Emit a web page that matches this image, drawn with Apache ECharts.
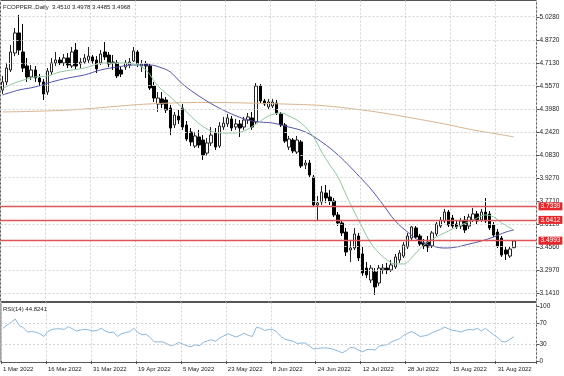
<!DOCTYPE html>
<html><head><meta charset="utf-8">
<script src="https://cdn.jsdelivr.net/npm/echarts@6/dist/echarts.min.js"></script>
<style>html,body{margin:0;padding:0;background:#fff}#c{width:564px;height:376px}</style>
</head><body><div id="c"></div>
<script>
const tickLabels = ['1 Mar 2022','16 Mar 2022','31 Mar 2022','19 Apr 2022','5 May 2022','23 May 2022','8 Jun 2022','24 Jun 2022','12 Jul 2022','28 Jul 2022','15 Aug 2022','31 Aug 2022'];
const labelStep = 11;
const emptySlots = 5;
const yTicks = [5.0280,4.8720,4.7130,4.5570,4.3980,4.2420,4.0830,3.9270,3.7710,3.6120,3.4560,3.2970,3.1410];
const rsiTicks = [0,30,70,100];
const levels = [3.7339,3.6412,3.4993];

const open = [4.529,4.584,4.666,4.782,4.919,4.789,4.693,4.618,4.666,4.611,
4.584,4.515,4.652,4.714,4.734,4.714,4.748,4.693,4.802,4.707,
4.720,4.734,4.755,4.734,4.714,4.789,4.768,4.720,4.714,4.666,
4.686,4.700,4.727,4.789,4.693,4.707,4.693,4.556,4.433,4.468,
4.461,4.406,4.290,4.351,4.406,4.290,4.242,4.146,4.208,4.187,
4.098,4.167,4.235,4.146,4.276,4.297,4.331,4.276,4.297,4.276,
4.324,4.338,4.310,4.556,4.454,4.413,4.420,4.440,4.365,4.290,
4.139,4.187,4.105,4.174,4.016,4.030,3.934,3.743,3.764,3.825,
3.798,3.770,3.675,3.620,3.558,3.435,3.449,3.531,3.408,3.312,
3.230,3.285,3.210,3.299,3.312,3.299,3.319,3.367,3.394,3.456,
3.517,3.586,3.531,3.483,3.490,3.463,3.545,3.599,3.634,3.695,
3.654,3.613,3.599,3.640,3.599,3.640,3.682,3.640,3.695,3.682,
3.606,3.558,3.517,3.435,3.394,3.4510];
const close = [4.584,4.679,4.789,4.919,4.802,4.679,4.618,4.666,4.611,4.584,
4.502,4.659,4.714,4.734,4.714,4.748,4.700,4.789,4.693,4.720,
4.748,4.761,4.727,4.673,4.775,4.755,4.707,4.714,4.625,4.638,
4.714,4.720,4.796,4.707,4.707,4.693,4.543,4.474,4.474,4.433,
4.392,4.269,4.358,4.324,4.276,4.194,4.174,4.215,4.153,4.085,
4.167,4.221,4.139,4.283,4.303,4.338,4.269,4.297,4.269,4.324,
4.345,4.276,4.556,4.454,4.433,4.447,4.447,4.372,4.290,4.180,
4.194,4.112,4.187,4.010,4.030,3.948,3.743,3.757,3.832,3.791,
3.770,3.675,3.620,3.552,3.422,3.449,3.545,3.381,3.278,3.265,
3.312,3.183,3.312,3.312,3.299,3.333,3.388,3.415,3.470,3.531,
3.593,3.524,3.476,3.463,3.456,3.552,3.613,3.640,3.695,3.606,
3.599,3.593,3.634,3.572,3.661,3.682,3.634,3.695,3.634,3.586,
3.538,3.463,3.401,3.408,3.442,3.4968];
const high = [4.625,4.714,4.837,4.953,5.042,4.980,4.748,4.700,4.693,4.638,
4.604,4.679,4.748,4.789,4.755,4.775,4.782,4.823,4.850,4.748,
4.775,4.823,4.768,4.761,4.802,4.857,4.789,4.768,4.734,4.693,
4.734,4.748,4.823,4.802,4.734,4.727,4.707,4.584,4.515,4.515,
4.481,4.427,4.379,4.392,4.433,4.317,4.269,4.242,4.256,4.221,
4.201,4.276,4.269,4.310,4.345,4.365,4.351,4.331,4.324,4.345,
4.372,4.379,4.577,4.570,4.468,4.468,4.468,4.461,4.379,4.303,
4.215,4.201,4.215,4.187,4.051,4.051,3.948,3.805,3.873,3.880,
3.846,3.791,3.695,3.640,3.586,3.504,3.586,3.552,3.456,3.353,
3.333,3.312,3.333,3.340,3.347,3.367,3.408,3.435,3.490,3.552,
3.599,3.599,3.545,3.511,3.531,3.565,3.627,3.661,3.716,3.709,
3.675,3.640,3.654,3.668,3.682,3.723,3.702,3.716,3.791,3.702,
3.627,3.579,3.531,3.456,3.463,3.4978];
const low = [4.502,4.563,4.652,4.761,4.768,4.652,4.584,4.597,4.584,4.556,
4.461,4.495,4.632,4.693,4.700,4.693,4.679,4.679,4.673,4.679,
4.707,4.714,4.707,4.645,4.700,4.734,4.686,4.666,4.611,4.618,
4.666,4.679,4.720,4.686,4.652,4.611,4.529,4.447,4.379,4.406,
4.372,4.221,4.269,4.297,4.256,4.180,4.146,4.133,4.133,4.051,
4.078,4.146,4.119,4.133,4.256,4.276,4.249,4.256,4.208,4.256,
4.297,4.256,4.297,4.440,4.420,4.399,4.406,4.358,4.276,4.167,
4.119,4.098,4.092,3.996,3.989,3.934,3.729,3.640,3.743,3.757,
3.743,3.661,3.599,3.531,3.394,3.353,3.435,3.360,3.258,3.244,
3.210,3.128,3.189,3.271,3.271,3.285,3.306,3.347,3.381,3.442,
3.504,3.511,3.463,3.442,3.422,3.449,3.531,3.586,3.620,3.593,
3.586,3.579,3.579,3.552,3.579,3.627,3.613,3.627,3.620,3.572,
3.524,3.449,3.388,3.367,3.381,3.4485];

const rsi = [60,66,71,77,65,61,53,54,53,50,
45,54,58,59,59,58,63,59,55,57,
58,57,55,56,60,55,52,53,45,50,
52,54,60,52,48,49,43,35,35,35,
32,28,30,34,31,28,26,30,28,34,
37,39,36,42,46,50,47,44,47,51,
47,45,62,60,56,58,58,53,45,40,
38,36,32,33,33,27,22,23,24,24,
23,21,18,15,19,25,24,20,17,21,
21,20,27,29,30,35,38,41,47,51,
54,50,45,46,48,52,55,58,62,59,
56,55,53,56,58,57,60,55,60,54,
48,43,36,35,40,44.8241];

// moving averages: [bar index, value]
const maFast = [[0,4.540],[3,4.577],[8,4.618],[11,4.625],[14,4.652],[20,4.679],[25,4.714],[28,4.714],[32,4.707],[35,4.666],[38,4.556],[41,4.481],[44,4.406],[47,4.324],[50,4.262],[53,4.235],[56,4.235],[59,4.249],[62,4.297],[65,4.351],[68,4.372],[70,4.351],[73,4.303],[76,4.208],[78,4.105],[80,4.016],[82,3.934],[84,3.811],[86,3.695],[88,3.586],[90,3.483],[92,3.415],[94,3.367],[96,3.340],[98,3.340],[99,3.353],[101,3.415],[103,3.470],[106,3.524],[109,3.565],[112,3.606],[115,3.640],[118,3.675],[120,3.661],[122,3.620],[125,3.572]];
const maMid = [[0,4.495],[4,4.529],[8,4.550],[12,4.584],[16,4.611],[20,4.632],[24,4.666],[28,4.686],[32,4.700],[36,4.700],[39,4.679],[41,4.652],[44,4.570],[48,4.488],[52,4.420],[56,4.365],[60,4.324],[63,4.310],[66,4.303],[70,4.276],[74,4.242],[78,4.174],[82,4.085],[85,4.003],[88,3.914],[90,3.853],[93,3.745],[96,3.634],[99,3.558],[102,3.497],[105,3.463],[108,3.449],[111,3.456],[114,3.476],[117,3.497],[120,3.524],[123,3.558],[125,3.572]];
const maSlow = [[0,4.379],[16,4.392],[32,4.427],[41,4.440],[50,4.444],[60,4.440],[69,4.433],[78,4.423],[86,4.399],[93,4.372],[100,4.338],[108,4.297],[115,4.256],[121,4.228],[125,4.208]];

const FONT = 'Liberation Sans';
const categories = [];
for (let i = 0; i < open.length + emptySlots; i++) categories.push(String(i));
const showTick = (idx) => idx % labelStep === 0 && idx / labelStep < tickLabels.length;
const gridDot = {color:'#d2d2d2', type:[2,2], width:1};

const chart = echarts.init(document.getElementById('c'), null, {renderer:'canvas'});
chart.setOption({
  animation:false,
  backgroundColor:'#ffffff',
  title:[
    {text:'FCOPPER.,Daily  3.4510 3.4978 3.4485 3.4968', left:3, top:4, padding:0,
     textStyle:{fontSize:6, fontWeight:'normal', color:'#222', fontFamily:FONT}},
    {text:'RSI(14) 44.8241', left:3, top:306, padding:0,
     textStyle:{fontSize:6, fontWeight:'normal', color:'#222', fontFamily:FONT}}
  ],
  grid:[
    {left:0.5, top:0.5, width:536, height:301, show:true, borderColor:'#555', borderWidth:1, backgroundColor:'transparent'},
    {left:0.5, top:302.5, width:536, height:60, show:true, borderColor:'#555', borderWidth:1, backgroundColor:'transparent'}
  ],
  xAxis:[
    {type:'category', gridIndex:0, data:categories, boundaryGap:true,
     axisLine:{show:false}, axisTick:{show:false}, axisLabel:{show:false},
     splitLine:{show:true, interval:(i)=>showTick(i), lineStyle:gridDot}},
    {type:'category', gridIndex:1, data:categories, boundaryGap:true,
     axisLine:{show:false},
     axisTick:{show:true, interval:(i)=>showTick(i), length:3, lineStyle:{color:'#555'}},
     axisLabel:{show:true, interval:(i)=>showTick(i), formatter:(v,i)=>tickLabels[i/labelStep],
       align:'left', margin:4, fontSize:6, color:'#222', fontFamily:FONT},
     splitLine:{show:true, interval:(i)=>showTick(i), lineStyle:gridDot}}
  ],
  yAxis:[
    {type:'value', gridIndex:0, position:'right', min:3.0834, max:5.1408, scale:true,
     axisLine:{show:false},
     axisTick:{show:true, customValues:yTicks, length:3, lineStyle:{color:'#555'}},
     axisLabel:{show:true, customValues:yTicks, formatter:(v)=>v.toFixed(4), margin:3,
       fontSize:6.5, color:'#222', fontFamily:FONT},
     splitLine:{show:false}},
    {type:'value', gridIndex:1, position:'right', min:-2.75, max:107.3,
     axisLine:{show:false},
     axisTick:{show:true, customValues:rsiTicks, length:3, lineStyle:{color:'#555'}},
     axisLabel:{show:true, customValues:rsiTicks, margin:3, fontSize:6.5, color:'#222', fontFamily:FONT},
     splitLine:{show:false}}
  ],
  series:[
    {type:'line', xAxisIndex:0, yAxisIndex:0, data:[], silent:true, z:1,
     markLine:{silent:true, symbol:['none','none'], animation:false, label:{show:false},
       lineStyle:gridDot, data:yTicks.map(v=>({yAxis:v}))}},
    {type:'candlestick', xAxisIndex:0, yAxisIndex:0, barWidth:3, z:2,
     data:open.map((o,i)=>[o, close[i], low[i], high[i]]),
     itemStyle:{color:'#ffffff', color0:'#000000', borderColor:'#222222', borderColor0:'#000000', borderWidth:1},
     markLine:{silent:true, symbol:['none','none'], animation:false, precision:4,
       lineStyle:{color:'#e05555', width:1.3, type:'solid'},
       label:{show:true, position:'end', distance:2, formatter:(p)=>p.name,
         color:'#ffffff', backgroundColor:'#e8262a', padding:[1,2,0,2], fontSize:6.5, fontFamily:FONT},
       data:levels.map(v=>({yAxis:v, name:v.toFixed(4)}))}},
    {type:'line', xAxisIndex:0, yAxisIndex:0, data:maSlow, smooth:0.4, showSymbol:false, z:3,
     lineStyle:{color:'#d8b48e', width:1}},
    {type:'line', xAxisIndex:0, yAxisIndex:0, data:maMid, smooth:0.4, showSymbol:false, z:3,
     lineStyle:{color:'#5353a8', width:1}},
    {type:'line', xAxisIndex:0, yAxisIndex:0, data:maFast, smooth:0.4, showSymbol:false, z:3,
     lineStyle:{color:'#8cc79c', width:1}},
    {type:'line', xAxisIndex:1, yAxisIndex:1, data:rsi, showSymbol:false, z:3,
     lineStyle:{color:'#8ab8dc', width:1},
     markLine:{silent:true, symbol:['none','none'], animation:false, label:{show:false},
       lineStyle:gridDot, data:[{yAxis:30},{yAxis:70}]}}
  ]
});
</script>
</body></html>
